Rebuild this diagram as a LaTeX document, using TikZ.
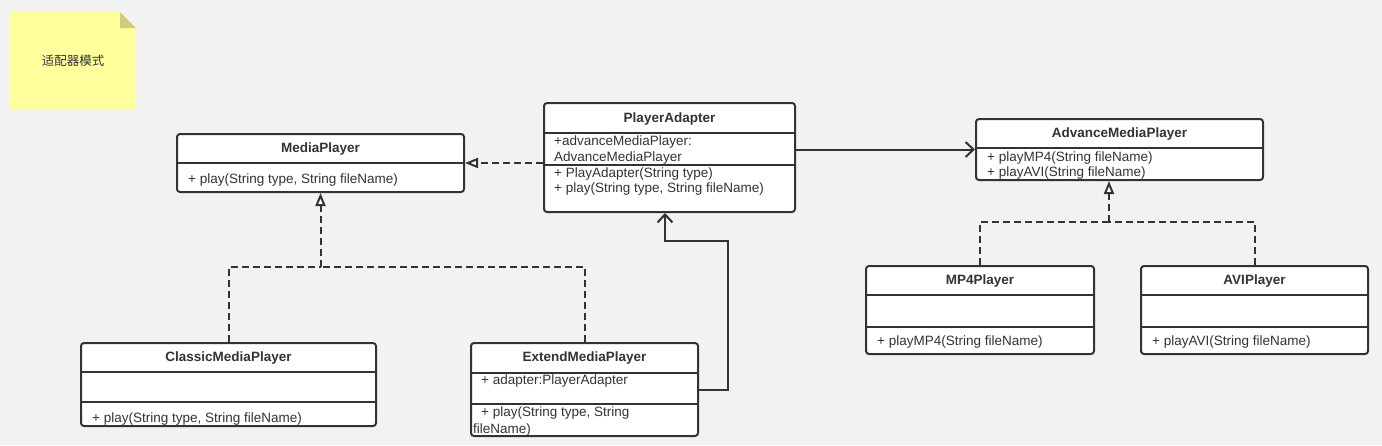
\documentclass[tikz,border=0pt]{standalone}
\usepackage{fontspec}
\setmainfont{Liberation Sans}
\newfontfamily\cjk{Noto Sans CJK SC}
\usetikzlibrary{positioning, calc, arrows.meta}

\definecolor{bgC}  {HTML}{F2F2F2}
\definecolor{lineC}{HTML}{333333}
\definecolor{noteC}{HTML}{FFFF9E}
\definecolor{foldC}{HTML}{CDCD7C}

\tikzset{
  umlbox/.style={draw=lineC, line width=2pt, fill=white, rounded corners=3pt, inner sep=0pt},
  umltitle/.style={font=\fontsize{13.5}{15}\selectfont\bfseries, text=lineC, inner sep=0pt, yshift=-1.5pt},
  member/.style={anchor=west, font=\fontsize{13.5}{15}\selectfont, text=lineC, inner sep=0pt, yshift=-1.5pt},
  divider/.style={draw=lineC, line width=1.6pt},
  realize/.style={draw=lineC, line width=2pt, dash pattern=on 7pt off 4pt,
                  -{Triangle[length=13pt, width=10pt, fill=white]}},
  dashline/.style={draw=lineC, line width=2pt, dash pattern=on 7pt off 4pt},
  assoc/.style={draw=lineC, line width=2pt, -{Straight Barb[length=8pt, width=15pt]}},
}

\begin{document}
\begin{tikzpicture}[x=1pt, y=-1pt]

% background / bounds
\fill[bgC] (0,0) rectangle (1382,445);
\useasboundingbox (0,0) rectangle (1382,445);

% =====================================================================
% note
% =====================================================================
\fill[noteC] (10,12) -- (120,12) -- (136,28) -- (136,109) -- (10,109) -- cycle;
\fill[foldC] (120,12) -- (136,28) -- (120,28) -- cycle;
\node[font=\cjk\fontsize{12.5}{14}\selectfont, text=lineC] (noteText) at (73,61) {适配器模式};

% =====================================================================
% MediaPlayer
% =====================================================================
\node[umlbox, minimum width=287pt, minimum height=58pt] (mediaPlayer) at (320.5,163) {};
\draw[divider] (177,163) -- (464,163);
\node[umltitle] (mediaPlayerT) at (320.5,148) {MediaPlayer};
\node[member] (mediaPlayerM1) at (188,179) {+ play(String type, String fileName)};

% =====================================================================
% PlayerAdapter
% =====================================================================
\node[umlbox, minimum width=251pt, minimum height=109pt] (adapter) at (669.5,157.5) {};
\draw[divider] (544,133) -- (795,133);
\draw[divider] (544,165) -- (795,165);
\node[umltitle] (adapterT) at (669.5,118) {PlayerAdapter};
\node[member] (adapterA1) at (554,141) {+advanceMediaPlayer:};
\node[member] (adapterA2) at (554,157) {AdvanceMediaPlayer};
\node[member] (adapterM1) at (554,173) {+ PlayAdapter(String type)};
\node[member] (adapterM2) at (554,188) {+ play(String type, String fileName)};

% =====================================================================
% AdvanceMediaPlayer
% =====================================================================
\node[umlbox, minimum width=287pt, minimum height=61pt] (advPlayer) at (1119.5,149.5) {};
\draw[divider] (976,148) -- (1263,148);
\node[umltitle] (advPlayerT) at (1119.5,133) {AdvanceMediaPlayer};
\node[member] (advPlayerM1) at (987,157) {+ playMP4(String fileName)};
\node[member] (advPlayerM2) at (987,172) {+ playAVI(String fileName)};

% =====================================================================
% MP4Player / AVIPlayer
% =====================================================================
\node[umlbox, minimum width=228pt, minimum height=88pt] (mp4Player) at (980,310) {};
\draw[divider] (866,295) -- (1094,295);
\draw[divider] (866,327) -- (1094,327);
\node[umltitle] (mp4PlayerT) at (980,280) {MP4Player};
\node[member] (mp4PlayerM1) at (877,341) {+ playMP4(String fileName)};

\node[umlbox, minimum width=227pt, minimum height=88pt] (aviPlayer) at (1254.5,310) {};
\draw[divider] (1141,295) -- (1368,295);
\draw[divider] (1141,327) -- (1368,327);
\node[umltitle] (aviPlayerT) at (1254.5,280) {AVIPlayer};
\node[member] (aviPlayerM1) at (1152,341) {+ playAVI(String fileName)};

% =====================================================================
% ClassicMediaPlayer / ExtendMediaPlayer
% =====================================================================
\node[umlbox, minimum width=295pt, minimum height=83pt] (classic) at (228.5,384.5) {};
\draw[divider] (81,372) -- (376,372);
\draw[divider] (81,402) -- (376,402);
\node[umltitle] (classicT) at (228.5,357) {ClassicMediaPlayer};
\node[member] (classicM1) at (92,418) {+ play(String type, String fileName)};

\node[umlbox, minimum width=227pt, minimum height=93pt] (extend) at (584.5,389.5) {};
\draw[divider] (471,373) -- (698,373);
\draw[divider] (471,404) -- (698,404);
\node[umltitle] (extendT) at (584.5,357) {ExtendMediaPlayer};
\node[member] (extendA1) at (481,380) {+ adapter:PlayerAdapter};
\node[member] (extendM1) at (481,412) {+ play(String type, String};
\node[member] (extendM2) at (473,428) {fileName)};

% =====================================================================
% connectors
% =====================================================================
\coordinate (mpJoin)  at (320.5,267);
\coordinate (advJoin) at (1109,222);

\draw[realize] (adapter.west |- mediaPlayer.east) -- (mediaPlayer.east);
\draw[assoc] (adapter.east |- advPlayer.west) -- (advPlayer.west);

\draw[dashline] (classic.north) |- (mpJoin);
\draw[dashline] (extend.north) |- (mpJoin);
\draw[realize] (mpJoin) -- (mediaPlayer.south);

\draw[assoc] (extend.east) -| (728,241) -| ([xshift=-4.5pt]adapter.south);

\draw[dashline] (mp4Player.north) |- (advJoin);
\draw[dashline] (aviPlayer.north) |- (advJoin);
\draw[realize] (advJoin) -- ([xshift=-10.5pt]advPlayer.south);

\end{tikzpicture}
\end{document}
